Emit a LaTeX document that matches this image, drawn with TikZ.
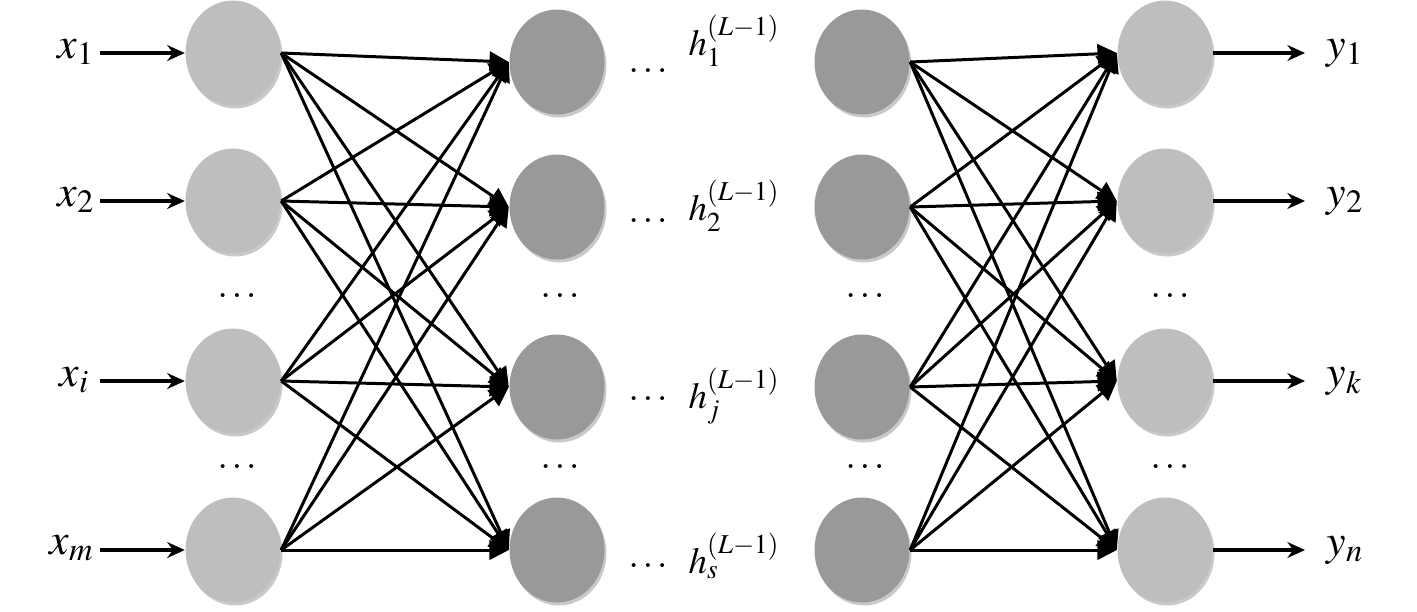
\documentclass[tikz,border=0pt]{standalone}
\usepackage{mathptmx}
\usepackage{fontspec}
\setmainfont{Liberation Serif}
\usepackage{xcolor}
\usetikzlibrary{arrows.meta,shapes.geometric,shadows}
\definecolor{lightcell}{RGB}{190,190,190}
\definecolor{darkcell}{RGB}{153,153,153}
\tikzset{
neuron/.style={ellipse,minimum width=0.95cm,minimum height=1.05cm,inner sep=0pt,
  drop shadow={shadow xshift=0.02cm,shadow yshift=-0.03cm,opacity=0.3,fill=black!70}},
inlayer/.style={neuron,fill=lightcell},
hidlayer/.style={neuron,fill=darkcell},
link/.style={line width=0.85pt,-{Triangle[length=5.5pt,width=5.5pt]}},
io/.style={line width=1.1pt,-{Stealth[length=5pt,width=4.5pt]}},
lab/.style={inner sep=0pt,font=\fontsize{12.5}{14}\selectfont},
hlab/.style={inner sep=0pt,font=\fontsize{10.5}{12}\selectfont}
}
\begin{document}
\begin{tikzpicture}[>=Stealth]
\useasboundingbox (0,0) rectangle (14.17,6.11);
\foreach \n/\y in {1/5.58,2/4.10,3/2.30,4/0.61}{
\node[inlayer](i\n) at (2.33,\y){};
\node[inlayer](o\n) at (11.65,\y){};
\coordinate (xs\n) at (1.00,\y);
\coordinate (ye\n) at (13.05,\y);
\draw[io](xs\n)--(i\n);
\draw[io](o\n.east)--(ye\n);
}
\foreach \n/\y in {1/5.49,2/4.04,3/2.24,4/0.61}{
\node[hidlayer](a\n) at (5.57,\y){};
\node[hidlayer](b\n) at (8.62,\y){};
}
\foreach \s in {1,...,4}{
\foreach \t in {1,...,4}{
\draw[link](i\s.east)--(a\t.west);
\draw[link](b\s.east)--(o\t.west);
}}
\node[lab,anchor=base west](x1) at (0.57,5.53){$x_1$};
\node[lab,anchor=base west](x2) at (0.57,4.05){$x_2$};
\node[lab,anchor=base west](x3) at (0.59,2.25){$x_i$};
\node[lab,anchor=base west](x4) at (0.49,0.57){$x_m$};
\node[lab,anchor=base west](y1) at (13.26,5.53){$y_1$};
\node[lab,anchor=base west](y2) at (13.26,4.05){$y_2$};
\node[lab,anchor=base west](y3) at (13.26,2.25){$y_k$};
\node[lab,anchor=base west](y4) at (13.26,0.56){$y_n$};
\node[hlab,anchor=base west](h1) at (6.88,5.56){$h_1^{(L-1)}$};
\node[hlab,anchor=base west](h2) at (6.88,3.91){$h_2^{(L-1)}$};
\node[hlab,anchor=base west](h3) at (6.88,2.03){$h_j^{(L-1)}$};
\node[hlab,anchor=base west](h4) at (6.88,0.38){$h_s^{(L-1)}$};
\foreach \n/\y in {1/5.39,2/3.89,3/2.11,4/0.44}
\node[hlab,anchor=base](hd\n) at (6.48,\y){$\ldots$};
\foreach \c/\x in {i/2.37,a/5.60,b/8.65,o/11.70}{
\node[hlab,anchor=base](\c dotu) at (\x,3.14){$\ldots$};
\node[hlab,anchor=base](\c dotl) at (\x,1.43){$\ldots$};
}
\end{tikzpicture}
\end{document}
